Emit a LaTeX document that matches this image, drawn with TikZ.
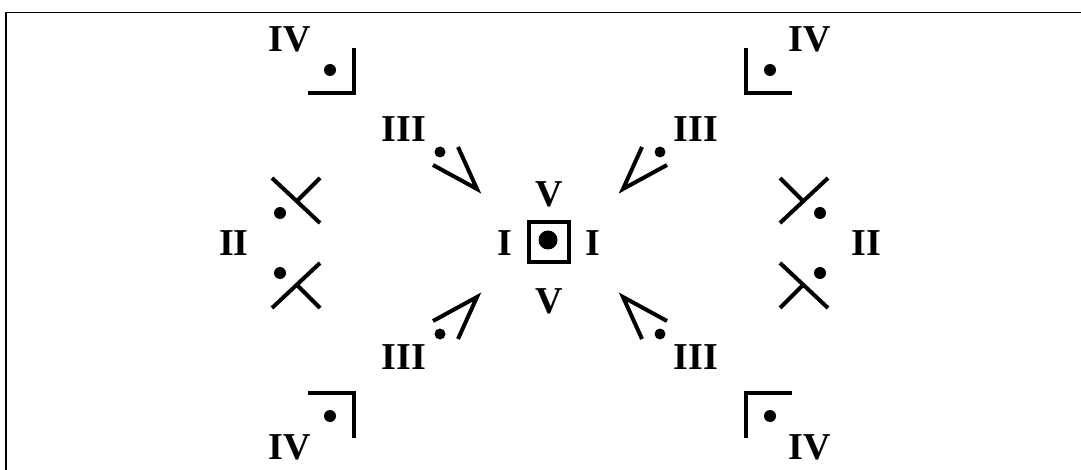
\documentclass[tikz,border=0pt]{standalone}
\usepackage{fontspec}
\setmainfont{Liberation Serif}
\tikzset{
  lbl/.style={inner sep=0pt, font=\fontsize{19}{19}\selectfont\bfseries},
  symline/.style={line width=2pt},
  framel/.style={line width=0.8pt},
}
\begin{document}
\begin{tikzpicture}[x=0.5pt,y=-0.5pt]
\useasboundingbox (0,0) rectangle (1081,470);
% frame
\draw[framel] (5.8,470) -- (5.8,12.4) -- (1081,12.4);
% four mirrored quadrants
\foreach \sx/\sy/\n in {1/1/a,-1/1/b,1/-1/c,-1/-1/d}{
  \begin{scope}[shift={(550,243)},xscale=\sx,yscale=\sy,shift={(-550,-243)}]
    \node[lbl] (iv\n) at (290,39) {IV};
    \node[lbl] (iii\n) at (404,129) {III};
    % corner symbol
    \draw[symline] (308,93) -- (354,93) -- (354,48);
    \fill (330,70) circle (6);
    % angle symbol
    \draw[symline] (433,165) -- (477,189) -- (458,147);
    \fill (440,152) circle (5.5);
    % cross symbol
    \draw[symline] (272,178) -- (320,223);
    \draw[symline] (320,178) -- (297,201);
    \fill (280,213) circle (6);
  \end{scope}
}
% II labels
\node[lbl] (iil) at (234,243) {II};
\node[lbl] (iir) at (866,243) {II};
% centre
\node[draw, line width=1.8pt, minimum size=20pt, inner sep=0pt] (sq) at (549,242) {};
\fill (548,240) circle (9.5);
\node[lbl] (il) at (505,243) {I};
\node[lbl] (ir) at (593,243) {I};
\node[lbl] (vt) at (549,194) {V};
\node[lbl] (vb) at (549,301) {V};
\end{tikzpicture}
\end{document}
